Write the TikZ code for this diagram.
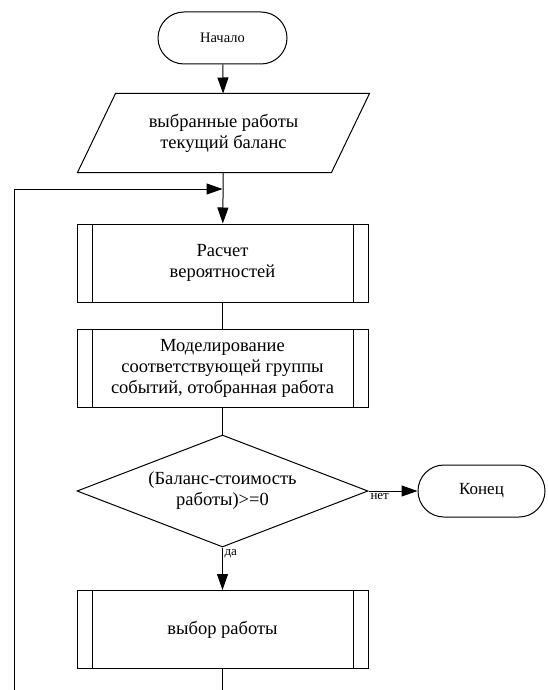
\documentclass[tikz,border=0pt]{standalone}
\usepackage{fontspec}
\setmainfont{Liberation Serif}
\usetikzlibrary{shapes.geometric,shapes.misc,arrows.meta}

\tikzset{
	base/.style={draw=black, line width=1pt, align=center, inner sep=0pt,
		font=\fontsize{18.5}{21}\selectfont},
	term/.style={base, rounded rectangle, minimum width=129pt, minimum height=52pt},
	inout/.style={base, draw=none, rectangle, minimum width=291pt, minimum height=78pt},
	subproc/.style={base, rectangle, minimum width=291pt, minimum height=78pt,
		path picture={
			\draw[line width=1pt] ([xshift=15pt]path picture bounding box.north west) -- ([xshift=15pt]path picture bounding box.south west);
			\draw[line width=1pt] ([xshift=-15pt]path picture bounding box.north east) -- ([xshift=-15pt]path picture bounding box.south east);
		}},
	cond/.style={base, diamond, aspect=2.6, minimum width=291pt, minimum height=112pt},
	arr/.style={line width=1pt, -{Triangle[length=16pt,width=11pt]}},
	line/.style={line width=1pt},
	lbl/.style={font=\fontsize{13}{15}\selectfont, inner sep=1.5pt}
}

\begin{document}
\begin{tikzpicture}[x=1pt, y=-1pt]
	\useasboundingbox (0,0) rectangle (547,690);

	\node[term, font=\fontsize{14.5}{17}\selectfont] (start) at (222.5, 38) {Начало};
	\node[inout] (input) at (223.5, 133) {выбранные работы\\текущий баланс};
	\node[subproc] (prob) at (222.5, 263) {Расчет\\вероятностей};
	\node[subproc] (model) at (222.5, 368) {Моделирование\\соответствующей группы\\событий, отобранная работа};
	\node[cond] (check) at (222.5, 491) {(Баланс-стоимость\\работы)>=0};
	\node[term, minimum width=127pt, font=\fontsize{17}{20}\selectfont] (stop) at (481.5, 491) {Конец};
	\node[subproc] (choice) at (222.5, 629.5) {выбор работы};

	% parallelogram outline of the input node
	\draw[line] ([xshift=38pt]input.north west) -- (input.north east)
		-- ([xshift=-38pt]input.south east) -- (input.south west) -- cycle;

	\coordinate (join) at (222.5, 189);
	\coordinate (loopup) at (14.5, 189);
	\coordinate (loopdown) at (14.5, 690);
	\coordinate (out) at (222.5, 690);

	\draw[arr] (start) -- (input);
	\draw[arr] (input) -- (prob);
	\draw[line] (prob) -- (model);
	\draw[line] (model) -- (check);
	\draw[arr] (check) -- node[lbl, pos=0, below right]{нет} (stop);
	\draw[arr] (check) -- node[lbl, pos=0, below right]{да} (choice);
	\draw[line] (choice) -- (out);
	\draw[arr] (loopdown) -- (loopup) -- (join);
\end{tikzpicture}
\end{document}
